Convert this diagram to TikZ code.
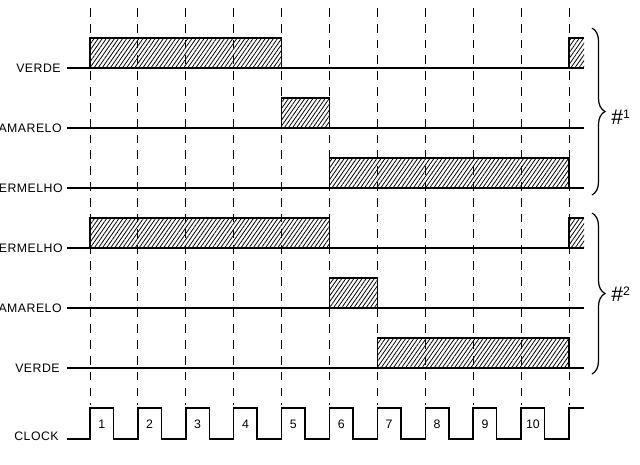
\documentclass[tikz,border=0pt]{standalone}
\usepackage{fontspec}
\newfontfamily\schrift[LetterSpace=4]{Liberation Sans}
\newfontfamily\ziffer{Liberation Sans}
\usetikzlibrary{calc}
\usetikzlibrary{patterns.meta}
\usetikzlibrary{decorations.pathreplacing}

\begin{document}
\begin{tikzpicture}[x=0.02cm, y=-0.02cm,
  Linie/.style={line width=0.8pt},
  Raster/.style={dash pattern=on 5pt off 4pt, line width=0.55pt},
  Puls/.style={draw, line width=0.8pt, pattern={Lines[angle=55, distance=1.9pt, line width=0.45pt]}},
  Name/.style={anchor=east, inner sep=0pt, font=\schrift\fontsize{7}{8}\selectfont},
  Zahl/.style={inner sep=0pt, font=\ziffer\fontsize{7}{8}\selectfont},
  Klammer/.style={decorate, decoration={brace, amplitude=0.26cm}, line width=0.7pt}]
\useasboundingbox (0,0) rectangle (640,464);
% Taktraster
\foreach \k in {0,...,10} {
  \coordinate (t\k) at ({90+47.9*\k},0);
  \draw[Raster] (t\k |- 0,8) -- (t\k |- 0,405);
}
\coordinate (e) at (584,0);
% Ampel 1
\coordinate (s1) at (67,68);
\coordinate (s2) at (67,128);
\coordinate (s3) at (67,188);
% Ampel 2
\coordinate (s4) at (67,248);
\coordinate (s5) at (67,308);
\coordinate (s6) at (67,368);
\coordinate (s7) at (67,439);
\node[Name] (verde1) at ($(s1)+(-6,0)$) {VERDE};
\node[Name] (amarelo1) at ($(s2)+(-5,0)$) {AMARELO};
\node[Name] (vermelho1) at ($(s3)+(-4,0)$) {VERMELHO};
\node[Name] (vermelho2) at ($(s4)+(-4,0)$) {VERMELHO};
\node[Name] (amarelo2) at ($(s5)+(-5,0)$) {AMARELO};
\node[Name] (verde2) at ($(s6)+(-7,0)$) {VERDE};
\node[Name] (clock) at ($(s7)+(-8,-3)$) {CLOCK};
% Pulse
\draw[Puls] (t0 |- s1) rectangle ($(t4 |- s1)+(0,-30)$);
\draw[Puls] (t4 |- s2) rectangle ($(t5 |- s2)+(0,-30)$);
\draw[Puls] (t5 |- s3) rectangle ($(t10 |- s3)+(0,-30)$);
\draw[Puls] (t0 |- s4) rectangle ($(t5 |- s4)+(0,-30)$);
\draw[Puls] (t5 |- s5) rectangle ($(t6 |- s5)+(0,-30)$);
\draw[Puls] (t6 |- s6) rectangle ($(t10 |- s6)+(0,-30)$);
\fill[pattern={Lines[angle=55, distance=1.9pt, line width=0.45pt]}] (t10 |- s1) rectangle ($(e |- s1)+(0,-30)$);
\draw[Linie] (t10 |- s1) -- ++(0,-30) -- ($(e |- s1)+(0,-30)$);
\fill[pattern={Lines[angle=55, distance=1.9pt, line width=0.45pt]}] (t10 |- s4) rectangle ($(e |- s4)+(0,-30)$);
\draw[Linie] (t10 |- s4) -- ++(0,-30) -- ($(e |- s4)+(0,-30)$);
% Grundlinien
\draw[Linie] (s1) -- (e |- s1);
\draw[Linie] (s2) -- (e |- s2);
\draw[Linie] (s3) -- (e |- s3);
\draw[Linie] (s4) -- (e |- s4);
\draw[Linie] (s5) -- (e |- s5);
\draw[Linie] (s6) -- (e |- s6);
% Takt
\draw[Linie] (s7) \foreach \k in {0,...,9} { -- (t\k |- s7) -- ++(0,-31) -- ++(23.5,0) -- ++(0,31) } -- (t10 |- s7) -- ++(0,-31) -- ($(e |- s7)+(0,-31)$);
\foreach \k in {1,...,10}
  \node[Zahl] (n\k) at ({90+47.9*(\k-1)+11.75},424) {\k};
% Klammern
\draw[Klammer] (592,28) -- (592,195);
\draw[Klammer] (592,213) -- (592,374);
\node[anchor=west, inner sep=0pt, font=\ziffer\fontsize{12}{12}\selectfont] (gruppe1) at (611,117) {\#\raisebox{3pt}{\fontsize{7}{7}\selectfont 1}};
\node[anchor=west, inner sep=0pt, font=\ziffer\fontsize{12}{12}\selectfont] (gruppe2) at (611,294) {\#\raisebox{3pt}{\fontsize{7}{7}\selectfont 2}};
\end{tikzpicture}
\end{document}
